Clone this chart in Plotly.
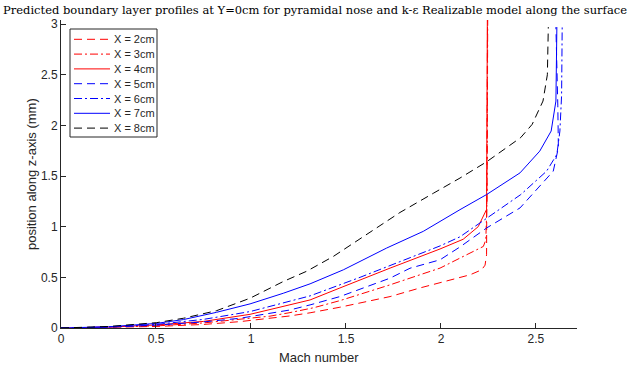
import plotly.graph_objects as go

# Mach number (x) and wall-normal position in mm (z) for each streamwise station
mach_x2 = [0, 0.25, 0.5, 0.75, 0.942, 1.205, 1.311, 1.468, 1.732, 1.889, 1.995, 2.153, 2.214, 2.232, 2.24, 2.243, 2.245]
z_x2 = [0, 0.005, 0.015, 0.035, 0.063, 0.119, 0.15, 0.205, 0.31, 0.395, 0.449, 0.525, 0.574, 0.62, 0.723, 2.0, 3.05]

mach_x3 = [0, 0.25, 0.5, 0.75, 1.0, 1.1, 1.2, 1.33, 1.468, 1.6, 1.732, 1.889, 1.995, 2.1, 2.223, 2.236, 2.243, 2.246]
z_x3 = [0, 0.007, 0.02, 0.05, 0.095, 0.117, 0.15, 0.2, 0.27, 0.345, 0.426, 0.525, 0.591, 0.69, 0.805, 0.87, 1.3, 3.05]

mach_x4 = [0, 0.25, 0.5, 0.75, 0.995, 1.17, 1.311, 1.468, 1.56, 1.732, 1.995, 2.117, 2.196, 2.223, 2.24, 2.244]
z_x4 = [0, 0.008, 0.03, 0.065, 0.135, 0.211, 0.277, 0.395, 0.465, 0.591, 0.78, 0.876, 1.0, 1.1, 1.17, 3.05]

mach_x5 = [0, 0.25, 0.5, 0.75, 0.942, 1.205, 1.311, 1.468, 1.732, 1.837, 1.995, 2.1, 2.24, 2.416, 2.591, 2.618, 2.615, 2.605]
z_x5 = [0, 0.008, 0.028, 0.06, 0.096, 0.178, 0.228, 0.31, 0.492, 0.59, 0.673, 0.8, 0.987, 1.185, 1.548, 1.779, 2.2, 2.97]

mach_x6 = [0, 0.25, 0.5, 0.75, 0.995, 1.17, 1.311, 1.574, 1.784, 1.995, 2.1, 2.24, 2.42, 2.556, 2.61, 2.626, 2.635, 2.638]
z_x6 = [0, 0.01, 0.035, 0.085, 0.162, 0.251, 0.317, 0.5, 0.655, 0.81, 0.9, 1.086, 1.317, 1.548, 1.713, 1.944, 2.3, 2.97]

mach_x7 = [0, 0.25, 0.5, 0.644, 0.819, 0.995, 1.17, 1.311, 1.486, 1.609, 1.714, 1.907, 1.995, 2.1, 2.24, 2.416, 2.52, 2.58, 2.605, 2.61]
z_x7 = [0, 0.012, 0.045, 0.083, 0.155, 0.238, 0.343, 0.436, 0.574, 0.69, 0.789, 0.954, 1.053, 1.168, 1.317, 1.531, 1.746, 1.944, 2.24, 2.97]

mach_x8 = [0, 0.25, 0.504, 0.644, 0.819, 0.995, 1.17, 1.293, 1.433, 1.609, 1.784, 1.96, 2.1, 2.24, 2.42, 2.48, 2.537, 2.56, 2.565]
z_x8 = [0, 0.015, 0.053, 0.096, 0.171, 0.294, 0.459, 0.56, 0.706, 0.921, 1.14, 1.33, 1.48, 1.64, 1.88, 2.01, 2.24, 2.5, 2.97]

series_names = ["X = 2cm", "X = 3cm", "X = 4cm", "X = 5cm", "X = 6cm", "X = 7cm", "X = 8cm"]

x_ticks = [0, 0.5, 1, 1.5, 2, 2.5]
x_tick_text = ["0", "0.5", "1", "1.5", "2", "2.5"]
y_ticks = [0, 0.5, 1, 1.5, 2, 2.5, 3]
y_tick_text = ["0", "0.5", "1", "1.5", "2", "2.5", "3"]

DASH = "8px,5px"
DASHDOT = "8px,3px,2px,3px"
styles = [
    ("#ff0000", DASH),
    ("#ff0000", DASHDOT),
    ("#ff0000", "solid"),
    ("#0000ff", DASH),
    ("#0000ff", DASHDOT),
    ("#0000ff", "solid"),
    ("#000000", DASH),
]

data = [
    (mach_x2, z_x2), (mach_x3, z_x3), (mach_x4, z_x4), (mach_x5, z_x5),
    (mach_x6, z_x6), (mach_x7, z_x7), (mach_x8, z_x8),
]

W, H = 630, 373
ML, MR, MT, MB = 61, 53, 20, 45
PW, PH = W - ML - MR, H - MT - MB


def px_x(px):
    return (px - ML) / PW


def px_y(py):
    return (H - MB - py) / PH


fig = go.Figure()
for (mx, zz), name, (color, dash) in zip(data, series_names, styles):
    fig.add_trace(go.Scatter(
        x=mx, y=zz, mode="lines", name=name,
        line=dict(color=color, dash=dash, width=1),
    ))

axis_color = "#262626"
sans = "Liberation Sans, Arial, Helvetica, sans-serif"
tick_font = dict(family=sans, size=12, color=axis_color)
label_font = dict(family=sans, size=13, color=axis_color)
legend_font = dict(family=sans, size=11, color=axis_color)

# legend box drawn as shapes + text so that row spacing stays compact
shapes = [dict(type="rect", xref="paper", yref="paper",
               x0=px_x(70), x1=px_x(157), y0=px_y(137), y1=px_y(29),
               line=dict(color=axis_color, width=1), fillcolor="white", layer="above")]
annotations = []
row0, row_step = 39.3, 14.8
for i, (name, (color, dash)) in enumerate(zip(series_names, styles)):
    yy = px_y(row0 + i * row_step)
    shapes.append(dict(type="line", xref="paper", yref="paper",
                       x0=px_x(74), x1=px_x(110), y0=yy, y1=yy,
                       line=dict(color=color, dash=dash, width=1), layer="above"))
    annotations.append(dict(text=name, xref="paper", yref="paper",
                            x=px_x(112), y=yy, xanchor="left", yanchor="middle",
                            showarrow=False, font=legend_font))

annotations += [
    dict(text="Mach number", x=0.5, xref="paper", y=px_y(357), yref="paper",
         showarrow=False, font=label_font, xanchor="center", yanchor="middle"),
    dict(text="position along z-axis (mm)", x=px_x(31), y=0.5, xref="paper", yref="paper",
         showarrow=False, font=label_font, textangle=-90,
         xanchor="center", yanchor="middle"),
]

fig.update_layout(
    width=W, height=H,
    margin=dict(l=ML, r=MR, t=MT, b=MB),
    paper_bgcolor="white", plot_bgcolor="white",
    showlegend=False,
    title=dict(
        text="Predicted boundary layer profiles at Y=0cm for pyramidal nose and k-\u03b5 Realizable model along the surface",
        font=dict(family="DejaVu Serif, serif", size=11.5, color="black"),
        x=0.5, xref="container", xanchor="center",
        y=1 - 10 / H, yref="container", yanchor="middle",
    ),
    xaxis=dict(
        range=[0, 2.716], tickvals=x_ticks, ticktext=x_tick_text,
        showgrid=False, zeroline=False, showline=True, linecolor=axis_color,
        linewidth=1, ticks="inside", ticklen=5, tickcolor=axis_color,
        tickfont=tick_font, mirror=False,
    ),
    yaxis=dict(
        range=[0, 3.04], tickvals=y_ticks, ticktext=y_tick_text,
        showgrid=False, zeroline=False, showline=True, linecolor=axis_color,
        linewidth=1, ticks="inside", ticklen=5, tickcolor=axis_color,
        tickfont=tick_font, mirror=False,
    ),
    shapes=shapes,
    annotations=annotations,
)

fig.write_html("out.html")
